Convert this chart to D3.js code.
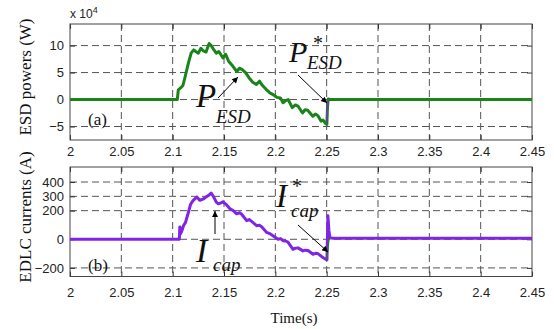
<!DOCTYPE html>
<html>
<head>
<meta charset="utf-8">
<script src="https://cdn.jsdelivr.net/npm/d3@7"></script>
<style>
body{margin:0;background:#fff}
svg{display:block}
.tick text{font-family:"Liberation Sans",Arial,sans-serif;font-size:13px;fill:#222}
.serif{font-family:"Liberation Serif","Times New Roman",serif;fill:#111}
</style>
</head>
<body>
<svg id="chart"></svg>
<script>
// tick values and labels
var xTicks = [2,2.05,2.1,2.15,2.2,2.25,2.3,2.35,2.4,2.45]
var xTickLabels = ["2","2.05","2.1","2.15","2.2","2.25","2.3","2.35","2.4","2.45"]
var pTicks = [-5,0,5,10]
var iTicks = [-200,0,200,300,400]

// (a) ESD power, x 10^4 W
var pTime = [2.000,2.1045,2.1055,2.108,2.110,2.1125,2.115,2.118,2.1205,2.1225,2.125,2.1275,2.130,2.1325,2.1355,2.1375,2.1395,2.1425,2.145,2.149,2.1515,2.1545,2.1585,2.1625,2.165,2.1675,2.171,2.1745,2.178,2.1815,2.1845,2.1875,2.191,2.195,2.198,2.2015,2.205,2.2075,2.210,2.2125,2.2165,2.2195,2.222,2.2265,2.229,2.2315,2.2365,2.239,2.2415,2.2445,2.2465,2.2488,2.2502,2.2508,2.2515,2.2535,2.45]
var pEsd = [0,0,1.8,2.2,2.6,4.5,6.5,8.6,9.2,8.9,8.6,9.5,9.0,8.8,10.4,10.0,9.4,8.6,8.9,7.7,8.4,7.1,6.2,5.2,5.8,5.6,5.0,4.0,3.2,2.8,3.4,2.6,1.9,1.2,0.9,0.4,0.3,-0.6,-0.2,0.0,-1.5,-1.0,-1.2,-2.5,-1.9,-2.0,-3.1,-2.7,-3.0,-4.0,-3.8,-4.4,-4.6,-1.5,0.1,0.0,0.0]
// reference P*ESD, only visible at the jump
var pRefTime = [2.2503,2.2508,2.2513,2.2518]
var pRefVal = [-4.2,-1.8,-0.8,0]

// (b) EDLC current, A
var iTime = [2.000,2.1065,2.107,2.1078,2.109,2.1105,2.1125,2.115,2.1175,2.120,2.1235,2.1265,2.1295,2.1325,2.1355,2.1375,2.140,2.1425,2.1445,2.147,2.149,2.1526,2.1558,2.159,2.1623,2.1655,2.1672,2.1721,2.1745,2.1769,2.1818,2.1845,2.1867,2.1916,2.1945,2.1977,2.2026,2.205,2.2075,2.210,2.2123,2.2172,2.2195,2.2221,2.2269,2.229,2.2318,2.2367,2.239,2.2415,2.2464,2.249,2.2503,2.2512,2.2522,2.2532,2.256,2.45]
var iCap = [0,0,85,40,60,95,118,180,245,272,295,272,280,295,310,323,295,260,248,255,262,240,213,200,178,185,175,130,138,125,95,98,88,48,40,25,0,5,-10,-12,-20,-70,-62,-60,-81,-76,-78,-105,-98,-100,-128,-140,-142,165,60,10,8,8]
// reference I*cap, only visible at the jump
var iRefTime = [2.2500,2.2512,2.2522,2.2532]
var iRefVal = [-140,-70,-10,8]

var screen = {width:554,height:329}
var plotX = {left:70,right:532}

var svg = d3.select("#chart")
    .attr("width",screen.width)
    .attr("height",screen.height)

var xScale = d3.scaleLinear()
    .domain([2,2.45])
    .range([plotX.left,plotX.right])

var drawPanel = function(cfg)
{
    var yScale = d3.scaleLinear()
        .domain(cfg.domain)
        .range([cfg.bottom,cfg.top])

    var g = svg.append("g")

    // dashed grid
    g.selectAll(".vgrid")
        .data(xTicks.slice(1,-1))
        .enter()
        .append("line")
        .attr("x1",function(d){return xScale(d)})
        .attr("x2",function(d){return xScale(d)})
        .attr("y1",cfg.top)
        .attr("y2",cfg.bottom)
        .attr("stroke","#555")
        .attr("stroke-width",1)
        .attr("stroke-dasharray","7,4")

    g.selectAll(".hgrid")
        .data(cfg.yTicks)
        .enter()
        .append("line")
        .attr("x1",plotX.left)
        .attr("x2",plotX.right)
        .attr("y1",function(d){return yScale(d)})
        .attr("y2",function(d){return yScale(d)})
        .attr("stroke","#555")
        .attr("stroke-width",1)
        .attr("stroke-dasharray","7,4")

    // axes
    var xAxis = d3.axisBottom(xScale)
        .tickValues(xTicks)
        .tickFormat(function(d,i){return xTickLabels[i]})
        .tickSizeInner(-5)
        .tickSizeOuter(0)
        .tickPadding(cfg.xPad)
    var yAxis = d3.axisLeft(yScale)
        .tickValues(cfg.yTicks)
        .tickSizeInner(-5)
        .tickSizeOuter(0)
        .tickPadding(6)

    var xa = g.append("g")
        .attr("transform","translate(0,"+cfg.bottom+")")
        .call(xAxis)
    var ya = g.append("g")
        .attr("transform","translate("+plotX.left+",0)")
        .call(yAxis)
    xa.select(".domain").remove()
    ya.select(".domain").remove()
    g.selectAll(".tick line").attr("stroke","#333")

    // top and right inner ticks
    g.append("g")
        .attr("transform","translate(0,"+cfg.top+")")
        .call(d3.axisTop(xScale).tickValues(xTicks).tickSizeInner(-5).tickSizeOuter(0).tickFormat(""))
        .call(function(s){s.select(".domain").remove(); s.selectAll("line").attr("stroke","#333")})
    g.append("g")
        .attr("transform","translate("+plotX.right+",0)")
        .call(d3.axisRight(yScale).tickValues(cfg.yTicks).tickSizeInner(-5).tickSizeOuter(0).tickFormat(""))
        .call(function(s){s.select(".domain").remove(); s.selectAll("line").attr("stroke","#333")})

    // box
    g.append("rect")
        .attr("x",plotX.left)
        .attr("y",cfg.top)
        .attr("width",plotX.right-plotX.left)
        .attr("height",cfg.bottom-cfg.top)
        .attr("fill","none")
        .attr("stroke","#444")
        .attr("stroke-width",1)

    var line = d3.line()
        .x(function(d){return xScale(d[0])})
        .y(function(d){return yScale(d[1])})

    g.append("path")
        .datum(d3.zip(cfg.t,cfg.v))
        .attr("d",line)
        .attr("fill","none")
        .attr("stroke",cfg.color)
        .attr("stroke-width",3)
        .attr("stroke-linejoin","round")

    g.append("path")
        .datum(d3.zip(cfg.refT,cfg.refV))
        .attr("d",line)
        .attr("fill","none")
        .attr("stroke",cfg.refColor)
        .attr("stroke-width",1.2)

    // y title
    g.append("text")
        .attr("class","serif")
        .attr("transform","translate(31,"+cfg.titleY+") rotate(-90)")
        .attr("text-anchor","middle")
        .style("font-size","17px")
        .text(cfg.title)

    // panel letter
    g.append("text")
        .attr("class","serif")
        .attr("x",88)
        .attr("y",cfg.letterY)
        .style("font-size","17px")
        .text(cfg.letter)

    return yScale
}

var green = "#1a841a"
var purple = "#8224e3"

drawPanel({
    domain:[-7.5,14], top:24, bottom:140, yTicks:pTicks, xPad:7,
    t:pTime, v:pEsd, color:green, refT:pRefTime, refV:pRefVal, refColor:purple,
    title:"ESD powers (W)", titleY:77, letter:"(a)", letterY:125
})
drawPanel({
    domain:[-260,505], top:167, bottom:276.5, yTicks:iTicks, xPad:11,
    t:iTime, v:iCap, color:purple, refT:iRefTime, refV:iRefVal, refColor:green,
    title:"EDLC currents (A)", titleY:217, letter:"(b)", letterY:271
})

// x 10^4 multiplier
var mult = svg.append("text")
    .attr("x",70)
    .attr("y",18)
    .style("font-family","'Liberation Sans',Arial,sans-serif")
    .style("font-size","12px")
    .attr("fill","#222")
mult.append("tspan").text("x 10")
mult.append("tspan").attr("dy",-5).style("font-size","9px").text("4")

// x title
svg.append("text")
    .attr("class","serif")
    .attr("x",294)
    .attr("y",323)
    .attr("text-anchor","middle")
    .style("font-size","15px")
    .text("Time(s)")

// arrowhead
svg.append("defs").append("marker")
    .attr("id","head")
    .attr("viewBox","0 0 10 10")
    .attr("refX",10)
    .attr("refY",5)
    .attr("markerWidth",8)
    .attr("markerHeight",6)
    .attr("markerUnits","userSpaceOnUse")
    .attr("orient","auto")
    .append("path")
    .attr("d","M0,0L10,5L0,10Z")
    .attr("fill","#000")

var arrows = [
    [218,98,238,77],
    [298,75,327,103],
    [215,234,215,211],
    [298,225,328,252]
]
svg.selectAll(".arrow")
    .data(arrows)
    .enter()
    .append("line")
    .attr("x1",function(d){return d[0]})
    .attr("y1",function(d){return d[1]})
    .attr("x2",function(d){return d[2]})
    .attr("y2",function(d){return d[3]})
    .attr("stroke","#000")
    .attr("stroke-width",1)
    .attr("marker-end","url(#head)")

// labels: main letter, star, subscript
var labels = [
    {x:196,y:107,size:33,main:"P",star:false,sx:0,sy:0,sub:"ESD",bx:216,by:123},
    {x:289,y:61.5,size:30,main:"P",star:true,sx:313,sy:50,sub:"ESD",bx:307,by:69},
    {x:196,y:261.5,size:34,main:"I",star:false,sx:0,sy:0,sub:"cap",bx:213,by:271},
    {x:276,y:206.5,size:33,main:"I",star:true,sx:292,sy:193,sub:"cap",bx:291,by:216.5}
]
labels.forEach(function(l)
{
    svg.append("text").attr("class","serif").attr("x",l.x).attr("y",l.y)
        .style("font-size",l.size+"px").style("font-style","italic").text(l.main)
    if(l.star)
        svg.append("text").attr("class","serif").attr("x",l.sx).attr("y",l.sy)
            .style("font-size","20px").text("*")
    svg.append("text").attr("class","serif").attr("x",l.bx).attr("y",l.by)
        .style("font-size","19px").style("font-style","italic").text(l.sub)
})
</script>
</body>
</html>
